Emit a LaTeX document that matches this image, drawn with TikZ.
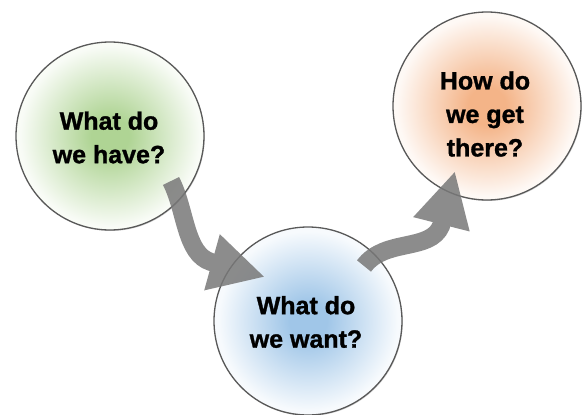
\documentclass[tikz,border=0pt]{standalone}
\usepackage{fontspec}
\setmainfont[BoldFeatures={FakeBold=1.2}]{Liberation Sans}
\usetikzlibrary{arrows.meta,shadows}

\definecolor{havegreen}{RGB}{175,212,148}
\definecolor{wantblue}{RGB}{160,198,232}
\definecolor{therepeach}{RGB}{244,180,136}
\definecolor{rimgray}{RGB}{89,89,89}
\definecolor{arrowgray}{RGB}{120,120,120}

\pgfdeclareradialshading{haveshade}{\pgfpoint{0bp}{0bp}}{color(0bp)=(havegreen); color(5bp)=(havegreen); color(24bp)=(havegreen!8); color(50bp)=(havegreen!8)}
\pgfdeclareradialshading{wantshade}{\pgfpoint{0bp}{0bp}}{color(0bp)=(wantblue); color(5bp)=(wantblue); color(24bp)=(wantblue!8); color(50bp)=(wantblue!8)}
\pgfdeclareradialshading{thereshade}{\pgfpoint{0bp}{0bp}}{color(0bp)=(therepeach); color(5bp)=(therepeach); color(24bp)=(therepeach!8); color(50bp)=(therepeach!8)}

\tikzset{
  bubble/.style={circle, minimum size=188pt, inner sep=0pt, draw=rimgray, line width=1.3pt,
    drop shadow={shadow xshift=0.8pt, shadow yshift=-1pt, opacity=.3}},
  bubbletext/.style={align=center, font=\bfseries\fontsize{25}{33.5}\selectfont},
  bigarrow/.style={draw=arrowgray, line width=18pt, -{Triangle[length=55pt,width=54pt]}}
}

\begin{document}
\begin{tikzpicture}[x=1pt,y=-1pt]
    \useasboundingbox (0,0) rectangle (582,415);

    \node[bubble, shade, shading=haveshade] (have) at (110,136) {};
    \node[bubble, shade, shading=wantshade] (want) at (308,321) {};
    \node[bubble, shade, shading=thereshade] (there) at (487,106) {};

    \node[bubbletext] (havetext) at (109,137.5) {What do\\we have?};
    \node[bubbletext] (wanttext) at (306,322) {What do\\we want?};
    \node[bubbletext] (theretext) at (485,114) {How do\\we get\\there?};

    \coordinate (haveout) at (171,181);
    \coordinate (havebend) at (211,262);
    \coordinate (wantin) at (265,277);
    \coordinate (wantout) at (364,266);
    \coordinate (wantbend) at (441,226);
    \coordinate (therein) at (455,171);

    \begin{scope}[transparency group, opacity=.85]
    \draw[bigarrow] (haveout) .. controls (186,210) and (185,254) .. (havebend) -- (wantin);
    \draw[bigarrow] (wantout) .. controls (385,238) and (430,252) .. (wantbend) -- (therein);
    \end{scope}

\end{tikzpicture}
\end{document}
